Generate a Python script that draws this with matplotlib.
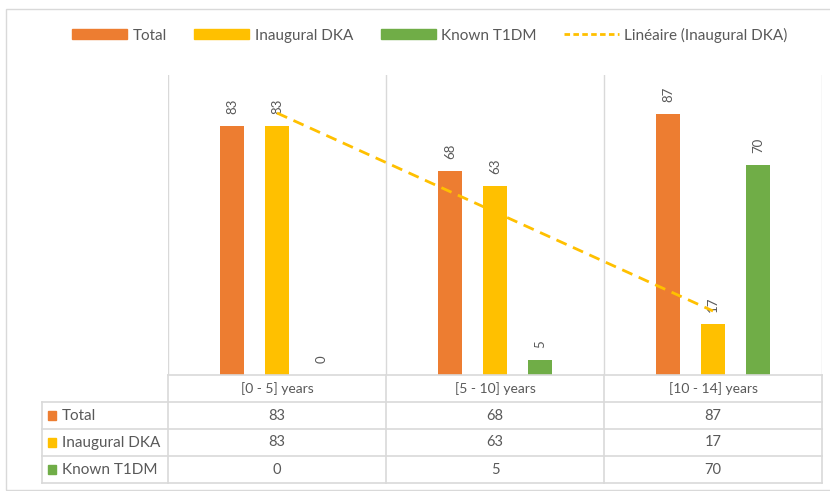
import numpy as np
import matplotlib.pyplot as plt
from matplotlib.lines import Line2D
from matplotlib.patches import Patch, Rectangle

categories = ['[0 - 5] years', '[5 - 10] years', '[10 - 14] years']
series_names = ['Total', 'Inaugural DKA', 'Known T1DM']
total = [83, 68, 87]
inaugural_dka = [83, 63, 17]
known_t1dm = [0, 5, 70]
values = [total, inaugural_dka, known_t1dm]
colors = ['#ED7D31', '#FFC000', '#70AD47']

plt.rcParams['font.family'] = ['Lato', 'DejaVu Sans']
txt = '#595959'
grid = '#D9D9D9'

W, H = 830, 491
fig = plt.figure(figsize=(W / 100, H / 100), dpi=100)

# outer chart border (right edge falls outside the image)
fig.patches.append(Rectangle((6 / W, 1 / H), 840 / W, (491 - 9 - 1) / H,
                             transform=fig.transFigure, fill=False,
                             edgecolor=grid, lw=1))

# plot area
ax = fig.add_axes([168 / W, (H - 375) / H, (822 - 168) / W, 300 / H])
x = np.arange(1, 4)
offsets = [-45 / 218, 0, 45 / 218]
bw = 24 / 218
for vals, off, c in zip(values, offsets, colors):
    ax.bar(x + off, vals, width=bw, color=c, zorder=3)
    for xi, v in zip(x + off, vals):
        ax.text(xi, v + 4, str(v), rotation=90, ha='center', va='bottom',
                fontsize=9.5, color=txt)

# linear trendline for Inaugural DKA
k, b = np.polyfit(x, inaugural_dka, 1)
ax.plot(x, k * x + b, color='#FFC000', lw=2, ls=(0, (4, 2.5)), zorder=4)

ax.set_xlim(0.5, 3.5)
ax.set_ylim(0, 100)
for xv in [0.5, 1.5, 2.5, 3.5]:
    ax.axvline(xv, color=grid, lw=1, zorder=1)
for s in ax.spines.values():
    s.set_visible(False)
ax.set_xticks([])
ax.set_yticks([])

# data table under the plot
left_px = 42
tab = fig.add_axes([left_px / W, (H - 483) / H, (822 - left_px) / W, 108 / H])
x0 = 0.5 - (168 - left_px) / 218
tab.set_xlim(x0, 3.5)
tab.set_ylim(4, 0)
tab.axis('off')
tab.plot([0.5, 3.5], [0, 0], color=grid, lw=1.2, clip_on=False)
for yv in [1, 2, 3, 4]:
    tab.plot([x0, 3.5], [yv, yv], color=grid, lw=1.2, clip_on=False)
tab.plot([x0, x0], [1, 4], color=grid, lw=1.2, clip_on=False)
for xv in [0.5, 1.5, 2.5, 3.5]:
    tab.plot([xv, xv], [0, 4], color=grid, lw=1.2, clip_on=False)

for i, cat in enumerate(categories):
    tab.text(i + 1, 0.5, cat, ha='center', va='center', fontsize=10, color=txt)
for r, (name, vals, c) in enumerate(zip(series_names, values, colors)):
    yc = r + 1.5
    tab.add_patch(Rectangle((x0 + 6 / 218, yc - 0.17), 8 / 218, 0.34,
                            color=c, clip_on=False))
    tab.text(x0 + 20 / 218, yc, name, ha='left', va='center', fontsize=11, color=txt)
    for i, v in enumerate(vals):
        tab.text(i + 1, yc, str(v), ha='center', va='center', fontsize=10.5, color=txt)

handles = [Patch(color=c) for c in colors]
handles.append(Line2D([0], [0], color='#FFC000', lw=2, ls=(0, (2, 1.2))))
labels = series_names + ['Linéaire (Inaugural DKA)']
fig.legend(handles, labels, loc='center', bbox_to_anchor=(430 / W, 1 - 35 / H),
           ncol=4, frameon=False, fontsize=11, labelcolor=txt,
           handlelength=3.6, handleheight=0.65, columnspacing=1.8,
           handletextpad=0.35)

fig.savefig('out.png', dpi=100)
